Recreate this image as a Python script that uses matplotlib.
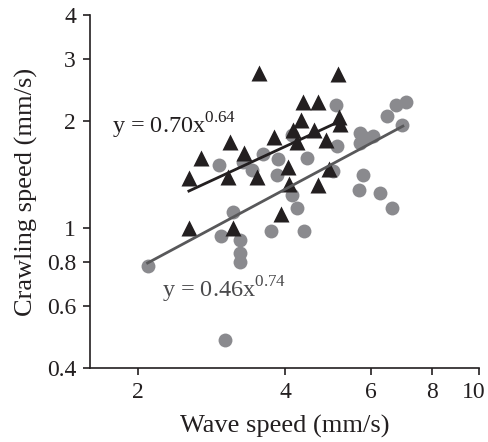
import matplotlib
matplotlib.use("Agg")
import matplotlib.pyplot as plt
import matplotlib.transforms as mtransforms
from matplotlib.ticker import FixedLocator, FixedFormatter, NullLocator

plt.rcParams['font.family'] = ['Liberation Serif', 'DejaVu Serif']
plt.rcParams['mathtext.fontset'] = 'custom'
plt.rcParams['mathtext.rm'] = 'Liberation Serif'

# Triangles (black)
tri_x = [3.54, 5.14, 4.35, 4.67, 4.31, 5.16, 5.19, 4.15, 4.59, 3.80, 3.08, 4.23, 4.85,
         3.30, 2.69, 4.06, 2.54, 3.06, 3.50, 4.92, 4.67, 4.08, 2.54, 3.13, 3.93]
tri_y = [2.74, 2.73, 2.27, 2.27, 2.02, 2.06, 1.97, 1.89, 1.89, 1.81, 1.75, 1.75, 1.77,
         1.63, 1.58, 1.49, 1.38, 1.39, 1.39, 1.47, 1.32, 1.33, 1.00, 1.00, 1.09]

# Circles (grey)
circ_x = [2.09, 3.01, 2.96, 3.13, 3.23, 3.23, 3.23, 2.93, 3.28, 3.42, 3.61, 3.87, 3.85,
          4.13, 4.13, 4.23, 3.74, 4.38, 4.44, 5.09, 5.11, 5.02, 5.70, 6.06, 5.70, 5.86,
          5.78, 5.67, 6.26, 6.63, 6.47, 6.76, 7.08, 6.95]
circ_y = [0.78, 0.48, 0.95, 1.11, 0.92, 0.85, 0.80, 1.51, 1.54, 1.46, 1.62, 1.57, 1.41,
          1.83, 1.24, 1.14, 0.98, 0.98, 1.58, 2.23, 1.70, 1.45, 1.86, 1.82, 1.74, 1.80,
          1.41, 1.28, 1.25, 1.14, 2.07, 2.23, 2.27, 1.95]

# Power-law fit lines (endpoints)
tri_fit_x = [2.54, 5.21]
tri_fit_y = [1.27, 2.01]
circ_fit_x = [2.09, 6.98]
circ_fit_y = [0.794, 1.94]

x_ticks = [2, 4, 6, 8, 10]
x_tick_labels = ["2", "4", "6", "8", "10"]
y_ticks = [0.4, 0.6, 0.8, 1, 2, 3, 4]
y_tick_labels = ["0.4", "0.6", "0.8", "1", "2", "3", "4"]

tri_color = '#231f20'
circ_color = '#8a8a8e'
circ_line_color = '#58585a'

fig = plt.figure(figsize=(4.88, 4.42), dpi=100)
ax = fig.add_axes([90/488, 1-368/442, (479-90)/488, (368-15.3)/442])

ax.set_xscale('log')
ax.set_yscale('log')
ax.set_xlim(1.592, 10)
ax.set_ylim(0.4, 4)

ax.plot(circ_x, circ_y, 'o', ms=10, color=circ_color, mec='none', zorder=2)
ax.plot(tri_x, tri_y, '^', ms=11, color=tri_color, mec='none', zorder=3)
ax.plot(circ_fit_x, circ_fit_y, '-', color=circ_line_color, lw=2.0, zorder=4)
ax.plot(tri_fit_x, tri_fit_y, '-', color=tri_color, lw=2.0, zorder=4)

ax.text(1.77, 1.94, r'y = 0.70x$^{0.64}$', fontsize=17.5, color='#231f20', va='center', ha='left')
ax.text(2.24, 0.666, r'y = 0.46x$^{0.74}$', fontsize=17.5, color='#4a4a4c', va='center', ha='left')

ax.xaxis.set_major_locator(FixedLocator(x_ticks))
ax.xaxis.set_major_formatter(FixedFormatter(x_tick_labels))
ax.xaxis.set_minor_locator(NullLocator())
ax.yaxis.set_major_locator(FixedLocator(y_ticks))
ax.yaxis.set_major_formatter(FixedFormatter(y_tick_labels))
ax.yaxis.set_minor_locator(NullLocator())

for s in ['top', 'right']:
    ax.spines[s].set_visible(False)
for s in ['left', 'bottom']:
    ax.spines[s].set_linewidth(1.2)
    ax.spines[s].set_color('#231f20')
ax.tick_params(direction='out', length=5, width=1.2, color='#231f20', labelsize=17, pad=5,
               labelcolor='#231f20')

ax.set_xlabel('Wave speed (mm/s)', fontsize=19, color='#231f20', labelpad=9)
ax.set_ylabel('Crawling speed (mm/s)', fontsize=19, color='#231f20', labelpad=6)

# keep the last x tick label inside the figure
fig.canvas.draw()
last = ax.get_xticklabels()[-1]
last.set_transform(last.get_transform() + mtransforms.ScaledTranslation(-5/100, 0, fig.dpi_scale_trans))

fig.savefig('out.png', dpi=100)
